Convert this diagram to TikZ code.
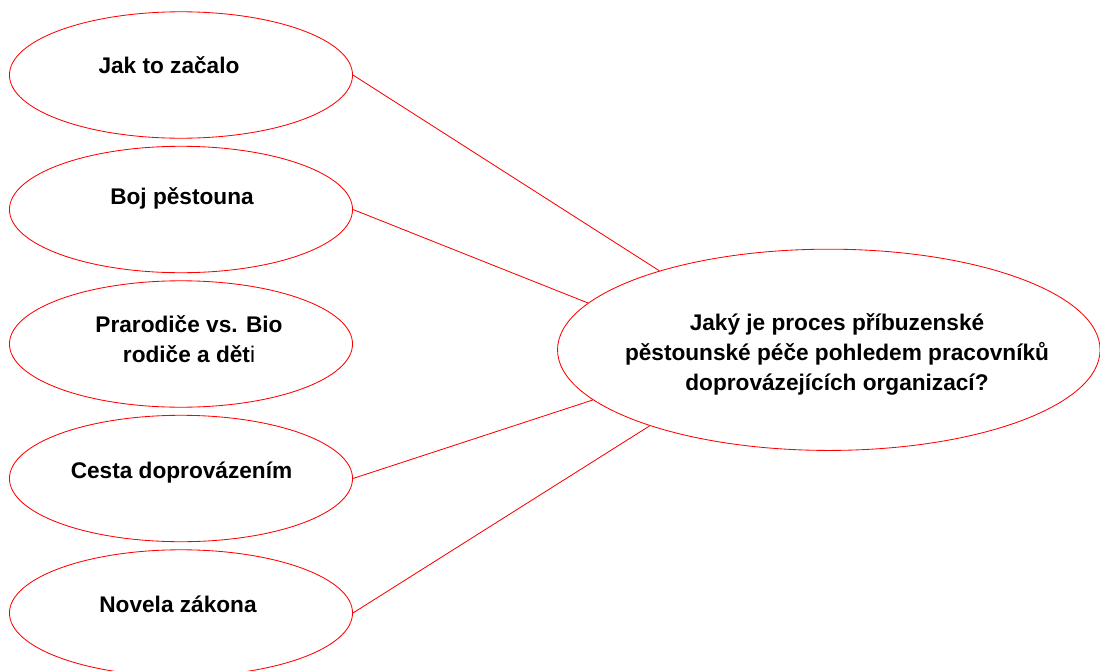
\documentclass[tikz,border=0pt]{standalone}
\usepackage{fontspec}
\setmainfont{Liberation Sans}
\usepackage{xcolor}
\usepackage{tikz}
\usetikzlibrary{shapes.geometric}

\tikzset{
  topic/.style={draw=red, line width=0.6pt, ellipse, inner sep=0pt,
    minimum width=8.575cm, minimum height=3.16cm},
  question/.style={draw=red, line width=0.6pt, ellipse, inner sep=0pt,
    minimum width=13.56cm, minimum height=5.03cm},
  topictext/.style={anchor=base, align=center,
    font=\bfseries\fontsize{16.1}{21}\selectfont},
  link/.style={draw=red, line width=0.6pt}
}

\begin{document}
\begin{tikzpicture}[x=0.025cm, y=-0.025cm]
\useasboundingbox (0,0) rectangle (1100,671);

% Topics on the left
\node[topic] (start) at (181,75) {};
\node[topic] (fight) at (181,209.5) {};
\node[topic] (family) at (181,344) {};
\node[topic] (path) at (181,478.5) {};
\node[topic] (law) at (181,613) {};

\node[topictext] (starttext) at (169,73) {Jak to začalo};
\node[topictext] (fighttext) at (182,204) {Boj pěstouna};
\node[topictext] (familytext) at (189,362) {Prarodiče vs. Bio\\rodiče a dět{\mdseries i}};
\node[topictext] (pathtext) at (181.5,478) {Cesta doprovázením};
\node[topictext] (lawtext) at (178,612) {Novela zákona};

% Research question
\node[question] (question) at (828.8,349.8) {};
\node[topictext] (questiontext) at (837,390) {Jaký je proces příbuzenské\\pěstounské péče pohledem pracovníků\\doprovázejících organizací?};

% Links
\draw[link] (start.east) -- (question.155.7);
\draw[link] (fight.east) -- (question.169.5);
\draw[link] (path.east) -- (question.192.9);
\draw[link] (law.east) -- (question.203.1);
\end{tikzpicture}
\end{document}
